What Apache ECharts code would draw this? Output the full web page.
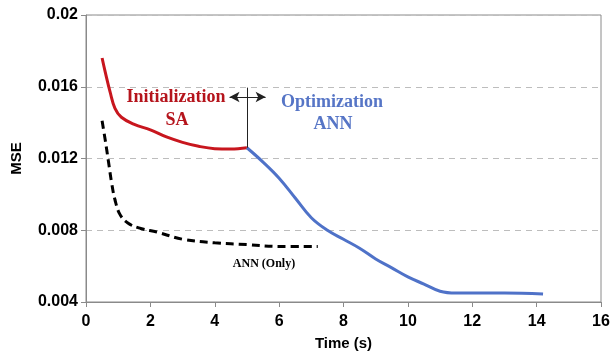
<!DOCTYPE html>
<html><head><meta charset="utf-8">
<script src="https://cdn.jsdelivr.net/npm/echarts@6/dist/echarts.min.js"></script>
<style>html,body{margin:0;padding:0;background:#fff}#c{width:610px;height:355px}</style>
</head><body><div id="c"></div>
<script>
const saTime = [0.5,0.6,0.75,0.9,1.1,1.5,2.0,2.5,3.0,3.5,4.0,4.5,5.0];
const saMSE  = [0.0176,0.0168,0.0157,0.0148,0.0143,0.0139,0.0136,0.0132,0.0129,0.01268,0.01255,0.01253,0.0126];
const annOptTime = [5.0,5.5,6.0,6.5,7.0,7.5,8.0,8.5,9.0,9.5,10.0,10.5,11.0,11.5,12.0,13.0,14.2];
const annOptMSE  = [0.0126,0.0118,0.0109,0.0098,0.0087,0.0080,0.0075,0.0070,0.0064,0.0059,0.0054,0.0050,0.0046,0.0045,0.0045,0.0045,0.00445];
const annOnlyTime = [0.5,0.6,0.7,0.8,0.9,1.05,1.3,1.7,2.2,3.0,4.0,5.0,6.0,7.2];
const annOnlyMSE  = [0.0141,0.0130,0.0118,0.0106,0.0097,0.0089,0.0084,0.0081,0.0079,0.0075,0.0073,0.0072,0.0071,0.0071];
const xTicks = [0,2,4,6,8,10,12,14,16];
const yTicks = [0.004,0.008,0.012,0.016,0.02];
const phaseSplit = 5.0;

const zip = (a,b) => a.map((v,i)=>[v,b[i]]);
const chart = echarts.init(document.getElementById('c'), null, {renderer:'canvas'});
const axisFont = {fontFamily:'Liberation Sans, Arial, sans-serif', fontWeight:'bold', fontSize:16, color:'#000'};
chart.setOption({
  animation:false,
  grid:{left:86,right:9,top:15,bottom:53,containLabel:false,outerBoundsMode:'none',show:true,borderColor:'#8a8a8a',borderWidth:1,backgroundColor:'transparent'},
  xAxis:{type:'value',min:xTicks[0],max:xTicks[xTicks.length-1],interval:2,
    name:'Time (s)',nameLocation:'middle',nameGap:34,
    nameTextStyle:{fontFamily:'Liberation Sans, Arial, sans-serif',fontWeight:'bold',fontSize:15,color:'#000'},
    axisLine:{lineStyle:{color:'#8a8a8a',width:1}},
    axisTick:{show:true,length:5,lineStyle:{color:'#8a8a8a'}},
    axisLabel:Object.assign({margin:12},axisFont),
    splitLine:{show:false}},
  yAxis:{type:'value',min:yTicks[0],max:yTicks[yTicks.length-1],interval:0.004,
    name:'MSE',nameLocation:'middle',nameGap:62,nameRotate:90,
    nameTextStyle:{fontFamily:'Liberation Sans, Arial, sans-serif',fontWeight:'bold',fontSize:15,color:'#000'},
    axisLine:{show:true,lineStyle:{color:'#8a8a8a',width:1}},
    axisTick:{show:true,length:5,lineStyle:{color:'#8a8a8a'}},
    axisLabel:Object.assign({margin:8,formatter:v=>String(+v.toFixed(3))},axisFont),
    splitLine:{show:true,lineStyle:{color:'#bdbdbd',type:[6,5],width:1}}},
  series:[
    {type:'line',data:zip(saTime,saMSE),smooth:0.4,showSymbol:false,
     lineStyle:{color:'#c8161e',width:3},z:3,
     markLine:{silent:true,symbol:['none','none'],label:{show:false},
       lineStyle:{color:'#222',width:1,type:'solid'},
       data:[
         [{coord:[phaseSplit,0.0126]},{coord:[phaseSplit,0.01595]}],
         [{coord:[phaseSplit-0.54,0.01543],symbol:'arrow',symbolSize:[8,10]},{coord:[phaseSplit+0.58,0.01543],symbol:'arrow',symbolSize:[8,10]}]
       ]}},
    {type:'line',data:zip(annOptTime,annOptMSE),smooth:0.4,showSymbol:false,
     lineStyle:{color:'#4f72c8',width:3},z:3},
    {type:'line',data:zip(annOnlyTime,annOnlyMSE),smooth:0.4,showSymbol:false,
     lineStyle:{color:'#000',width:3,type:[8,5]},z:3}
  ],
  graphic:[
    {type:'text',x:176,y:97,style:{text:'Initialization',align:'center',verticalAlign:'middle',
      font:'bold 18px "Liberation Serif", "Times New Roman", serif',fill:'#b5141c'}},
    {type:'text',x:177,y:120,style:{text:'SA',align:'center',verticalAlign:'middle',
      font:'bold 18px "Liberation Serif", "Times New Roman", serif',fill:'#b5141c'}},
    {type:'text',x:332,y:102,style:{text:'Optimization',align:'center',verticalAlign:'middle',
      font:'bold 18px "Liberation Serif", "Times New Roman", serif',fill:'#5675c6'}},
    {type:'text',x:333,y:124,style:{text:'ANN',align:'center',verticalAlign:'middle',
      font:'bold 18px "Liberation Serif", "Times New Roman", serif',fill:'#5675c6'}},
    {type:'text',x:264,y:264,style:{text:'ANN (Only)',align:'center',verticalAlign:'middle',
      font:'bold 12px "Liberation Serif", "Times New Roman", serif',fill:'#000'}}
  ]
});
</script></body></html>
